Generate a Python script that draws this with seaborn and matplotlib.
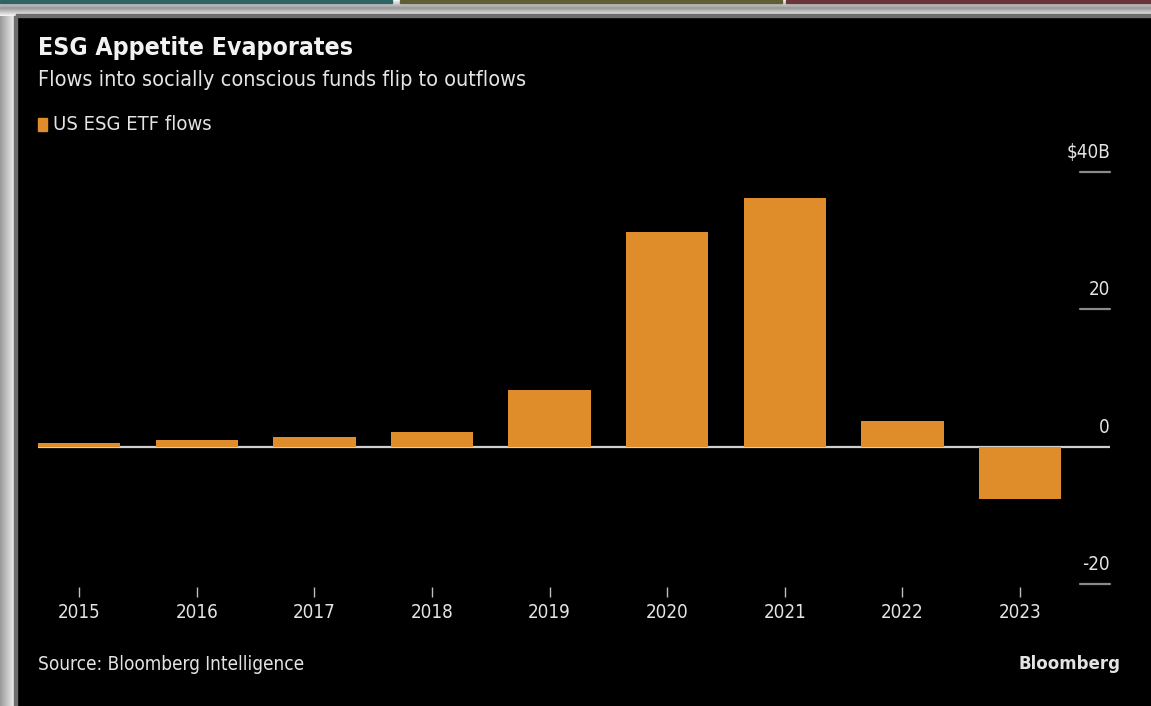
import matplotlib
matplotlib.use("Agg")
import matplotlib.pyplot as plt
from matplotlib.patches import Rectangle
from matplotlib.transforms import ScaledTranslation
import seaborn as sns
import pandas as pd
import numpy as np

# US ESG ETF flows, $ billions
years = ["2015", "2016", "2017", "2018", "2019", "2020", "2021", "2022", "2023"]
flows = [0.5, 1.0, 1.4, 2.2, 8.3, 31.2, 36.2, 3.8, -7.6]
ytick_values = [-20, 0, 20, 40]
ytick_labels = ["-20", "0", "20", "$40B"]

title = "ESG Appetite Evaporates"
subtitle = "Flows into socially conscious funds flip to outflows"
legend_label = "US ESG ETF flows"
source = "Source: Bloomberg Intelligence"
brand = "Bloomberg"

BAR = "#DF8D2B"
BG = "#000000"
TXT = "#E4E4E4"

sns.set_theme(style="dark")
plt.rcParams["font.family"] = ["DejaVu Sans"]
plt.rcParams["font.stretch"] = "condensed"

W, H = 1151, 706
fig = plt.figure(figsize=(W / 100, H / 100), dpi=100, facecolor=BG)


def fx(px):
    return px / W


def fy(py):
    return 1 - py / H


# window frame around the chart panel
grad = np.linspace(0.6, 0.97, 64).reshape(1, -1)
ax_left = fig.add_axes([0, 0, fx(16), 1])
ax_left.imshow(np.repeat(grad, 2, axis=0), cmap="gray", aspect="auto", vmin=0, vmax=1)
ax_left.axis("off")
ax_top = fig.add_axes([0, fy(16), 1, 16 / H])
ax_top.imshow(np.repeat(np.concatenate([grad[:, ::-1], grad], axis=1).T, 2, axis=1),
              cmap="gray", aspect="auto", vmin=0, vmax=1)
ax_top.axis("off")
for x0, x1, c in [(0, 392, "#2f6464"), (400, 782, "#5f5e35"), (786, 1151, "#6a3438")]:
    fig.patches.append(Rectangle((fx(x0), fy(3)), fx(x1 - x0), 3 / H,
                                 transform=fig.transFigure, color=c, zorder=5))
fig.patches.append(Rectangle((fx(16), fy(17)), 1, 3 / H, transform=fig.transFigure,
                             color="#6e6e6e", zorder=5))
fig.patches.append(Rectangle((fx(14), 0), fx(3), fy(16), transform=fig.transFigure,
                             color="#6e6e6e", zorder=5))

# main plot area
ax = fig.add_axes([fx(38), 1 - 584 / H, fx(1110 - 38), (584 - 172) / H])
ax.set_facecolor(BG)
df = pd.DataFrame({"year": years, "flow": flows})
sns.barplot(data=df, x="year", y="flow", color=BAR, width=0.7, saturation=1,
            ax=ax, zorder=2)
for p in ax.patches:
    p.set_edgecolor("none")

ax.set_ylim(-20, 40)
ax.set_xlim(-0.35, -0.35 + (1110 - 38) / 117.6)
ax.axhline(0, color="#cfcfcf", lw=1.6, zorder=1)

for s in ax.spines.values():
    s.set_visible(False)
ax.grid(False)
ax.set_xlabel("")
ax.set_ylabel("")
ax.set_yticks([])
ax.tick_params(axis="x", bottom=True, colors="#bdbdbd", length=7, width=1,
               direction="out", pad=7, labelsize=13.5, labelcolor=TXT)
# tick marks sit slightly below the plot floor
offset = ScaledTranslation(0, -2 / 72, fig.dpi_scale_trans)
for t in ax.xaxis.get_major_ticks():
    t.tick1line.set_transform(t.tick1line.get_transform() + offset)

# right-side value labels with short rules under them
ytr = ax.get_yaxis_transform()
for v, lab in zip(ytick_values, ytick_labels):
    if v != 0:
        ax.plot([1 - 30 / 1072, 1.0], [v, v], color="#8a8a8a", lw=1.6,
                transform=ytr, clip_on=False, zorder=3)
    ax.text(1.0, v, lab, transform=ytr + ScaledTranslation(0, 10 / 100, fig.dpi_scale_trans),
            ha="right", va="bottom", color=TXT, fontsize=13.5)

# headings
fig.text(fx(38), fy(48), title, ha="left", va="center", color="#F2F2F2",
         fontsize=17.8, fontweight="bold")
fig.text(fx(38), fy(80), subtitle, ha="left", va="center", color=TXT, fontsize=15.5)
fig.patches.append(Rectangle((fx(38), fy(131)), fx(9), 13 / H,
                             transform=fig.transFigure, color=BAR, zorder=5))
fig.text(fx(53), fy(124), legend_label, ha="left", va="center", color=TXT, fontsize=14.5)

# footer
fig.text(fx(38), fy(664), source, ha="left", va="center", color=TXT, fontsize=13.6)
fig.text(fx(1120), fy(664), brand, ha="right", va="center", color=TXT,
         fontsize=12, fontweight="bold", stretch="normal")

fig.savefig("out.png", dpi=100, facecolor=BG)
